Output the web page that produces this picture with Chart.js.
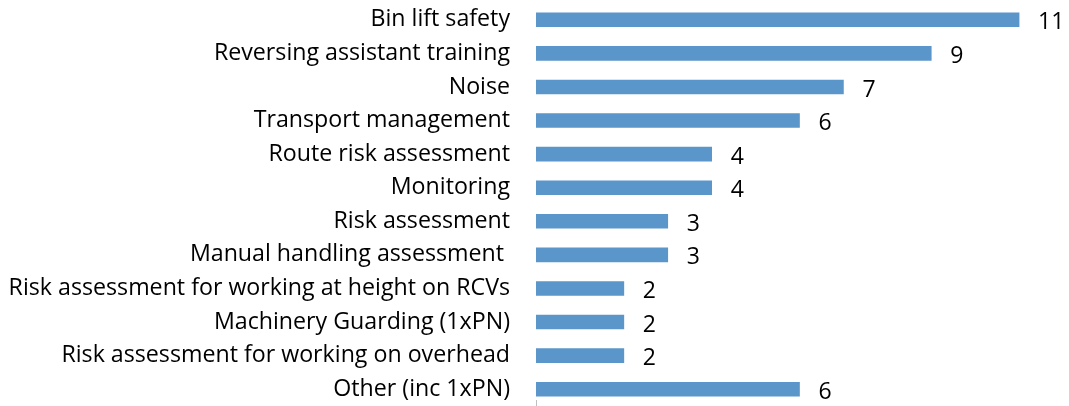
<!DOCTYPE html>
<html><head><meta charset="utf-8">
<script src="https://cdn.jsdelivr.net/npm/chart.js@4"></script>
<style>html,body{margin:0;padding:0;background:#fff}canvas{display:block}</style>
</head><body><canvas id="c" width="1069" height="406"></canvas>
<script>
const categories = ["Bin lift safety","Reversing assistant training","Noise","Transport management","Route risk assessment","Monitoring","Risk assessment","Manual handling assessment ","Risk assessment for working at height on RCVs","Machinery Guarding (1xPN)","Risk assessment for working on overhead","Other (inc 1xPN)"];
const values = [11,9,7,6,4,4,3,3,2,2,2,6];
const FONT = "'Open Sans', sans-serif";

const valueLabels = {
  id:'valueLabels',
  afterDatasetsDraw(chart){
    const ctx = chart.ctx;
    const meta = chart.getDatasetMeta(0);
    ctx.save();
    ctx.font = "23px " + FONT;
    ctx.fillStyle = "#000";
    ctx.textBaseline = "middle";
    ctx.textAlign = "left";
    meta.data.forEach((bar,i)=>{
      ctx.fillText(String(values[i]), bar.x + 19, bar.y + 3);
    });
    const x0 = chart.scales.x.getPixelForValue(0);
    ctx.strokeStyle = "#bfbfbf";
    ctx.lineWidth = 1;
    ctx.beginPath();
    ctx.moveTo(Math.round(x0)+0.5, chart.chartArea.bottom-6);
    ctx.lineTo(Math.round(x0)+0.5, chart.chartArea.bottom);
    ctx.stroke();
    ctx.restore();
  }
};

new Chart(document.getElementById('c'), {
  type:'bar',
  data:{labels:categories, datasets:[{data:values, backgroundColor:'#5b96cb', barThickness:14}]},
  options:{
    indexAxis:'y', responsive:false, animation:false,
    layout:{padding:{top:3,bottom:0,right:6,left:0}},
    plugins:{legend:{display:false}, tooltip:{enabled:false}},
    scales:{
      x:{display:false, min:0, max:12},
      y:{
        grid:{display:false, drawTicks:false},
        border:{display:false},
        ticks:{color:'#000', font:{family:FONT, size:23.2}, padding:26, autoSkip:false},
        afterFit(s){ s.width = 536; s.paddingTop = 0; s.paddingBottom = 0; }
      }
    }
  },
  plugins:[valueLabels]
});
</script></body></html>
